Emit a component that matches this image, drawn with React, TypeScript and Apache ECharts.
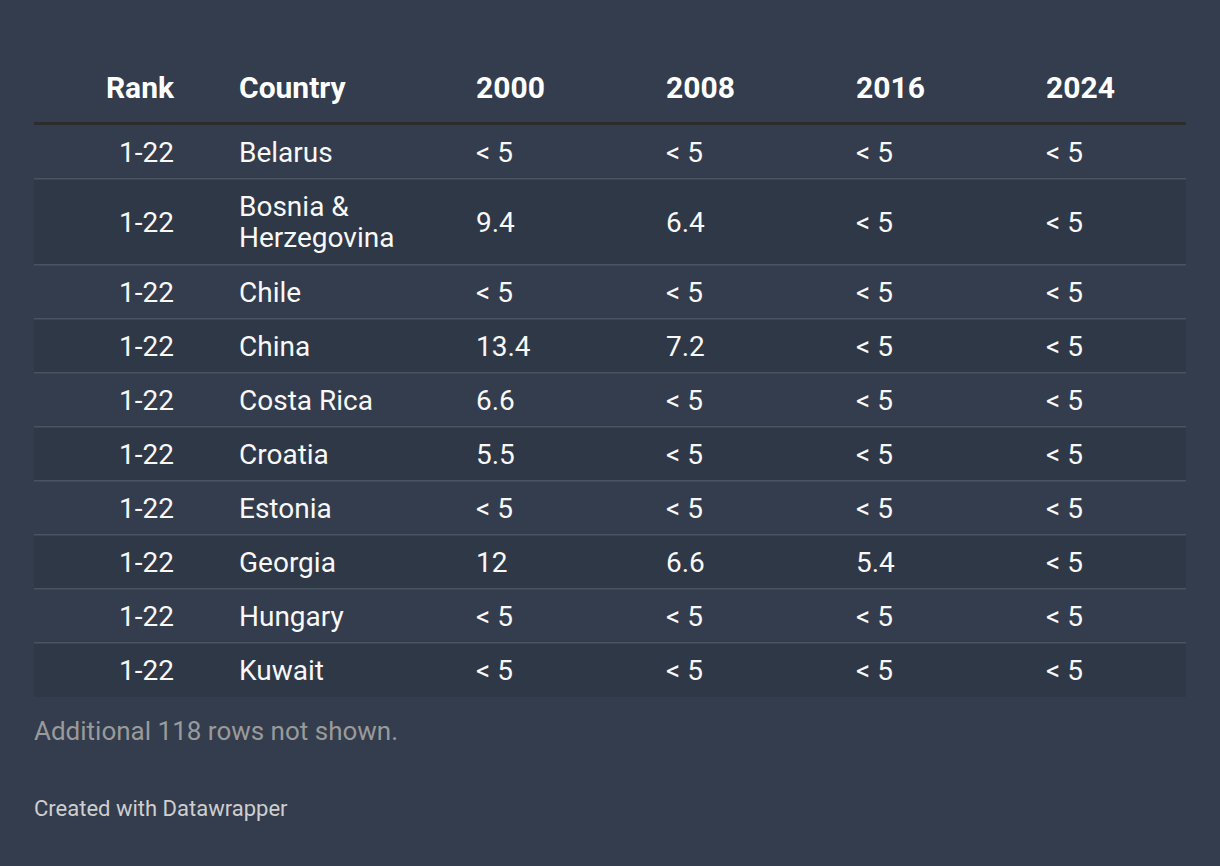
import React, { useEffect, useRef } from "react";
import * as echarts from "echarts";

const headers = ["Rank", "Country", "2000", "2008", "2016", "2024"];
const ranks = ["1-22", "1-22", "1-22", "1-22", "1-22", "1-22", "1-22", "1-22", "1-22", "1-22"];
const countries = ["Belarus", "Bosnia & Herzegovina", "Chile", "China", "Costa Rica", "Croatia", "Estonia", "Georgia", "Hungary", "Kuwait"];
const v2000 = ["< 5", "9.4", "< 5", "13.4", "6.6", "5.5", "< 5", "12", "< 5", "< 5"];
const v2008 = ["< 5", "6.4", "< 5", "7.2", "< 5", "< 5", "< 5", "6.6", "< 5", "< 5"];
const v2016 = ["< 5", "< 5", "< 5", "< 5", "< 5", "< 5", "< 5", "5.4", "< 5", "< 5"];
const v2024 = ["< 5", "< 5", "< 5", "< 5", "< 5", "< 5", "< 5", "< 5", "< 5", "< 5"];
const footnote = "Additional 118 rows not shown.";
const credit = "Created with Datawrapper";

const FONT = "Roboto, 'Noto Sans', sans-serif";

function wrapText(text: string, maxW: number, font: string): string[] {
  const c = document.createElement("canvas").getContext("2d");
  if (!c) return [text];
  c.font = font;
  const words = text.split(" ");
  const lines: string[] = [];
  let cur = "";
  for (const w of words) {
    const t = cur ? cur + " " + w : w;
    if (c.measureText(t).width > maxW && cur) {
      lines.push(cur);
      cur = w;
    } else cur = t;
  }
  if (cur) lines.push(cur);
  return lines;
}

export default function App() {
  const ref = useRef<HTMLDivElement>(null);
  useEffect(() => {
    if (!ref.current) return;
    const chart = echarts.init(ref.current, null, { renderer: "svg" });
    const W = 1220;
    const left = 34;
    const right = 1186;
    const fontSize = 28;
    const lineH = 31;
    const bodyFont = `400 ${fontSize}px Roboto`;
    const colX = [174, 239, 476, 666, 856, 1046];
    const colAlign = ["right", "left", "left", "left", "left", "left"];
    const els: any[] = [];
    els.push({ type: "rect", shape: { x: 0, y: 0, width: W, height: 866 }, style: { fill: "#333d4d" }, z: 0 });
    headers.forEach((h, i) => {
      els.push({
        type: "text",
        x: colX[i],
        y: 87,
        style: { text: h, fill: "#ffffff", font: `700 30px ${FONT}`, align: colAlign[i], verticalAlign: "middle" },
        z: 3,
      });
    });
    els.push({ type: "rect", shape: { x: left, y: 122, width: right - left, height: 3 }, style: { fill: "#2c2c2e" }, z: 3 });
    let y = 125;
    const cols = [ranks, countries, v2000, v2008, v2016, v2024];
    countries.forEach((name, r) => {
      const lines = wrapText(name, 215, bodyFont);
      const h = 54 + (lines.length - 1) * 32;
      if (r % 2 === 1) {
        els.push({ type: "rect", shape: { x: left, y: y, width: right - left, height: h }, style: { fill: "#2f3846" }, z: 1 });
      }
      const cy = y + h / 2;
      cols.forEach((col, ci) => {
        const txt = ci === 1 ? lines.join("\n") : col[r];
        els.push({
          type: "text",
          x: colX[ci],
          y: cy,
          style: {
            text: txt,
            fill: "#f8f8f8",
            font: `400 ${fontSize}px ${FONT}`,
            align: colAlign[ci],
            verticalAlign: "middle",
            lineHeight: lineH,
          },
          z: 3,
        });
      });
      y += h;
      if (r < countries.length - 1) {
        els.push({ type: "rect", shape: { x: left, y: y - 1, width: right - left, height: 1.5 }, style: { fill: "#4a5361" }, z: 2 });
      }
    });
    els.push({
      type: "text",
      x: left,
      y: 731,
      style: { text: footnote, fill: "#9a9a9a", font: `400 26px ${FONT}`, align: "left", verticalAlign: "middle" },
      z: 3,
    });
    els.push({
      type: "text",
      x: left,
      y: 808,
      style: { text: credit, fill: "#cfcfcf", font: `400 22px ${FONT}`, align: "left", verticalAlign: "middle" },
      z: 3,
    });
    chart.setOption({ animation: false, backgroundColor: "#333d4d", graphic: { elements: els } });
    return () => chart.dispose();
  }, []);
  return <div ref={ref} style={{ position: "fixed", left: 0, top: 0, width: 1220, height: 866 }} />;
}
